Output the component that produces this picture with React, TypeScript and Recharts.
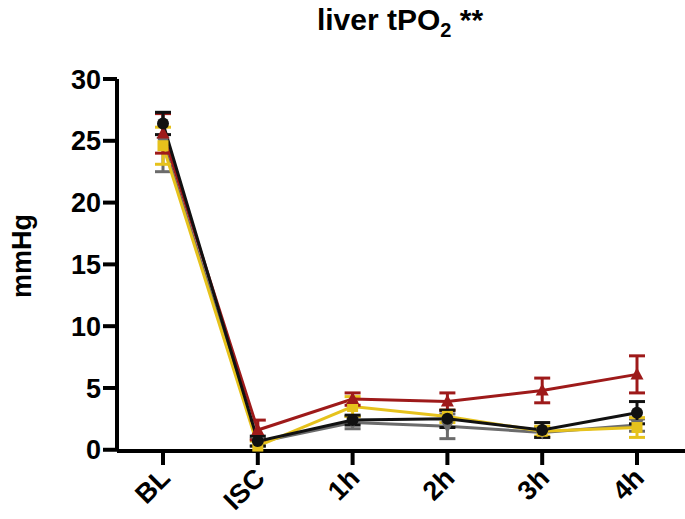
import React from "react";
import { LineChart, Line, XAxis, YAxis, ErrorBar } from "recharts";

const categories = ["BL", "ISC", "1h", "2h", "3h", "4h"];
const yTicks = [0, 5, 10, 15, 20, 25, 30];

const blackMean = [26.4, 0.7, 2.4, 2.5, 1.6, 3.0];
const blackErr = [0.9, 0.4, 0.4, 0.7, 0.6, 0.9];
const redMean = [25.6, 1.6, 4.1, 3.9, 4.8, 6.1];
const redErr = [1.6, 0.8, 0.5, 0.7, 1.0, 1.5];
const yellowMean = [24.6, 0.3, 3.5, 2.7, 1.5, 1.8];
const yellowErr = [1.5, 0.4, 0.8, 0.5, 0.4, 0.8];
const greyMean = [24.9, 0.6, 2.2, 1.9, 1.4, 2.0];
const greyErr = [2.4, 0.3, 0.5, 1.0, 0.4, 0.5];

const data = categories.map((c, i) => ({
  cat: c,
  black: blackMean[i],
  blackE: blackErr[i],
  red: redMean[i],
  redE: redErr[i],
  yellow: yellowMean[i],
  yellowE: yellowErr[i],
  grey: greyMean[i],
  greyE: greyErr[i],
}));

const BLACK = "#111111";
const RED = "#9e1a1a";
const YELLOW = "#e6c21c";
const GREY = "#6b6b6b";
const FONT = "'Liberation Sans', Arial, sans-serif";

const circleDot = (color: string) => (p: any) => (
  <circle key={p.index} cx={p.cx} cy={p.cy} r={6} fill={color} />
);
const triDot = (color: string) => (p: any) => (
  <path
    key={p.index}
    d={`M${p.cx},${p.cy - 7} L${p.cx + 6.5},${p.cy + 5} L${p.cx - 6.5},${p.cy + 5} Z`}
    fill={color}
  />
);
const squareDot = (color: string) => (p: any) => (
  <rect key={p.index} x={p.cx - 5.5} y={p.cy - 5.5} width={11} height={11} fill={color} />
);
const invTriDot = (color: string) => (p: any) => (
  <path
    key={p.index}
    d={`M${p.cx},${p.cy + 7} L${p.cx + 6.5},${p.cy - 5} L${p.cx - 6.5},${p.cy - 5} Z`}
    fill={color}
  />
);

const XTick = (props: any) => {
  const { x, y, payload } = props;
  return (
    <g transform={`translate(${x + 2},${y + 6})`}>
      <text
        x={0}
        y={0}
        dy="0.35em"
        textAnchor="end"
        transform="rotate(-45)"
        fontFamily={FONT}
        fontWeight="bold"
        fontSize={27}
        fill="#000"
      >
        {payload.value}
      </text>
    </g>
  );
};

export default function App() {
  return (
    <div style={{ position: "absolute", left: 0, top: 0, width: 685, height: 519, background: "#fff" }}>
      <div
        style={{
          position: "absolute",
          left: 0,
          width: 800,
          top: 3,
          textAlign: "center",
          fontFamily: FONT,
          fontWeight: "bold",
          fontSize: 30,
          lineHeight: "34px",
          color: "#000",
        }}
      >
        liver tPO<sub style={{ fontSize: 20 }}>2</sub> **
      </div>
      <div
        style={{
          position: "absolute",
          left: 22,
          top: 256,
          transform: "translate(-50%, -50%) rotate(-90deg)",
          fontFamily: FONT,
          fontWeight: "bold",
          fontSize: 27,
          lineHeight: "30px",
          whiteSpace: "nowrap",
          color: "#000",
          zIndex: 2,
        }}
      >
        mmHg
      </div>
      <LineChart
        width={685}
        height={519}
        data={data}
        margin={{ top: 79, right: 0, bottom: 0, left: 0 }}
      >
        <XAxis
          dataKey="cat"
          type="category"
          padding={{ left: 46, right: 48 }}
          axisLine={{ stroke: "#000", strokeWidth: 4 }}
          tickLine={{ stroke: "#000", strokeWidth: 4 }}
          tickSize={14}
          tick={<XTick />}
          height={68}
          interval={0}
        />
        <YAxis
          domain={[0, 30]}
          ticks={yTicks}
          width={117}
          axisLine={{ stroke: "#000", strokeWidth: 4 }}
          tickLine={{ stroke: "#000", strokeWidth: 4 }}
          tickSize={14}
          tickMargin={2}
          tick={{ fill: "#000", fontFamily: FONT, fontWeight: "bold", fontSize: 27 }}
        />
        <Line
          dataKey="grey"
          stroke={GREY}
          strokeWidth={3}
          dot={invTriDot(GREY)}
          isAnimationActive={false}
        >
          <ErrorBar dataKey="greyE" width={8} stroke={GREY} strokeWidth={3} direction="y" />
        </Line>
        <Line
          dataKey="yellow"
          stroke={YELLOW}
          strokeWidth={3}
          dot={squareDot(YELLOW)}
          isAnimationActive={false}
        >
          <ErrorBar dataKey="yellowE" width={8} stroke={YELLOW} strokeWidth={3} direction="y" />
        </Line>
        <Line
          dataKey="red"
          stroke={RED}
          strokeWidth={3}
          dot={triDot(RED)}
          isAnimationActive={false}
        >
          <ErrorBar dataKey="redE" width={8} stroke={RED} strokeWidth={3} direction="y" />
        </Line>
        <Line
          dataKey="black"
          stroke={BLACK}
          strokeWidth={3}
          dot={circleDot(BLACK)}
          isAnimationActive={false}
        >
          <ErrorBar dataKey="blackE" width={8} stroke={BLACK} strokeWidth={3} direction="y" />
        </Line>
      </LineChart>
    </div>
  );
}
